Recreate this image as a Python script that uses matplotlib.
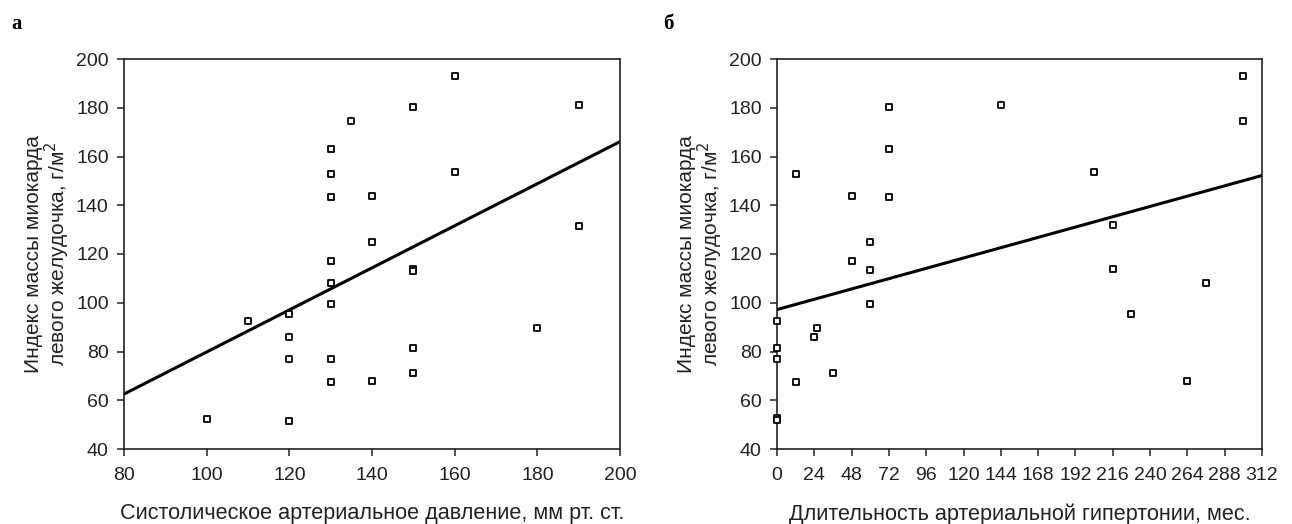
import numpy as np
import matplotlib
matplotlib.use("Agg")
import matplotlib.pyplot as plt

plt.rcParams['font.family'] = ['Liberation Sans', 'DejaVu Sans']

# panel a: systolic pressure vs LV mass index
sbp = [100, 110, 120, 120, 120, 120,
       130, 130, 130, 130, 130, 130, 130, 130,
       135, 140, 140, 140,
       150, 150, 150, 150, 150,
       160, 160, 180, 190, 190]
lvmi_a = [52.5, 92.5, 95.5, 86, 77, 51.5,
          163, 153, 143.5, 117, 108, 99.5, 77, 67.5,
          174.5, 144, 125, 68,
          180.5, 114, 113, 81.5, 71,
          193, 153.5, 89.5, 181, 131.5]
trend_a = (0.863, -6.5)  # slope, intercept

# panel b: duration of hypertension (months) vs LV mass index
months = [0, 0, 0, 0, 0, 12, 12, 24, 26, 36, 48, 48,
          60, 60, 60, 72, 72, 72, 144, 204, 216, 216,
          228, 264, 276, 300, 300]
lvmi_b = [92.7, 81.5, 77, 52.7, 51.8, 153, 67.3, 86, 89.6, 71, 144, 117,
          125, 113.3, 99.5, 180.4, 163, 143.4, 181, 153.5, 131.8, 113.8,
          95.4, 67.8, 108, 193.2, 174.6]
trend_b = (0.1763, 97.2)

ylabel = "Индекс массы миокарда\nлевого желудочка, г/м$^2$"

fig = plt.figure(figsize=(12.92, 5.24), dpi=100)
ax1 = fig.add_axes([124 / 1292, 75 / 524, 496 / 1292, 390 / 524])
ax2 = fig.add_axes([777 / 1292, 75 / 524, 485 / 1292, 390 / 524])


def draw(ax, x, y, trend, xlim, xticks, xlabel):
    ax.scatter(x, y, marker='s', s=24, facecolors='white', edgecolors='black',
               linewidths=1.3, zorder=3, clip_on=False)
    xs = np.array(xlim)
    ax.plot(xs, trend[0] * xs + trend[1], color='black', lw=2.2, zorder=2)
    ax.set_xlim(xlim)
    ax.set_ylim(40, 200)
    ax.set_xticks(xticks)
    ax.set_yticks(range(40, 201, 20))
    ax.tick_params(direction='out', length=5, width=1.1, labelsize=14,
                   colors='#222222', labelcolor='#222222')
    ax.tick_params(axis='x', pad=8)
    ax.tick_params(axis='y', pad=6)
    for s in ax.spines.values():
        s.set_linewidth(1.2)
        s.set_color('#222222')
    ax.set_xlabel(xlabel, fontsize=15.6, labelpad=14, color='#222222')
    ax.set_ylabel(ylabel, fontsize=15, labelpad=3, linespacing=1.0, color='#222222')


draw(ax1, sbp, lvmi_a, trend_a, (80, 200), range(80, 201, 20),
     "Систолическое артериальное давление, мм рт. ст.")
draw(ax2, months, lvmi_b, trend_b, (0, 312), range(0, 313, 24),
     "Длительность артериальной гипертонии, мес.")

fig.text(0.009, 0.955, "а", fontsize=15, fontweight='bold', family='Liberation Serif', va='center')
fig.text(0.513, 0.955, "б", fontsize=15, fontweight='bold', family='Liberation Serif', va='center')

fig.savefig("out.png", dpi=100)
